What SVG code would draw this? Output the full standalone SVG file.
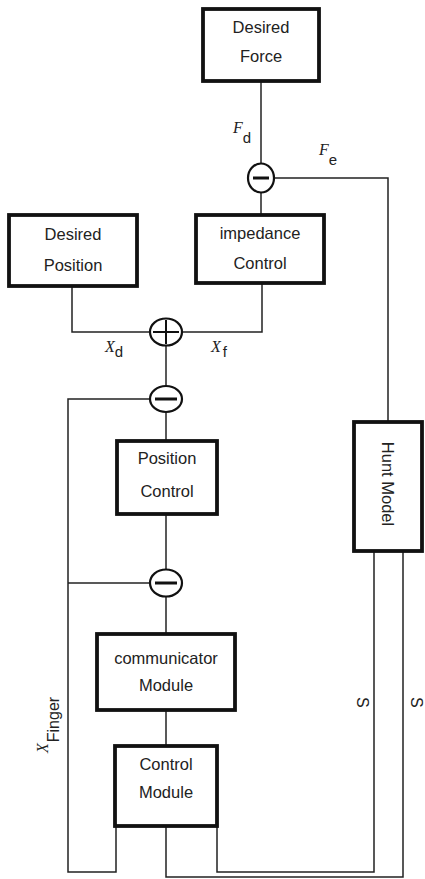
<svg xmlns="http://www.w3.org/2000/svg" width="425" height="879" viewBox="0 0 425 879">
<style>
.box{fill:#fff;stroke:#111;stroke-width:3.8}
.lbl{font-family:"Liberation Sans",Arial,sans-serif;font-size:16.5px;fill:#222;text-anchor:middle}
.ln{fill:none;stroke:#222;stroke-width:1.5}
.sum{fill:#fff;stroke:#111;stroke-width:2.2}
.sg{stroke:#111;stroke-width:3}
.sgp{stroke:#111;stroke-width:2}
.mi{font-family:"Liberation Serif","Times New Roman",serif;font-style:italic;font-size:16px;fill:#222}
.ms{font-family:"Liberation Sans",Arial,sans-serif;font-size:15px;fill:#222}
</style>
<rect width="425" height="879" fill="#fff"/>
<g id="connectors">
<path class="ln" d="M261 81V163"/>
<path class="ln" d="M261 192V215"/>
<path class="ln" d="M274 178H388V422"/>
<path class="ln" d="M72 286V332H150"/>
<path class="ln" d="M262 283V332H182"/>
<path class="ln" d="M166 345V386"/>
<path class="ln" d="M151 399H68V872H116V826"/>
<path class="ln" d="M166 412V441"/>
<path class="ln" d="M166 514V570"/>
<path class="ln" d="M150 583H68"/>
<path class="ln" d="M166 596V634"/>
<path class="ln" d="M166 710V746"/>
<path class="ln" d="M166 826V877H403V551"/>
<path class="ln" d="M217 826V872H374V551"/>
</g>
<g id="desired-force"><rect class="box" x="203" y="9" width="116" height="72"/><text class="lbl" x="261" y="33">Desired</text><text class="lbl" x="261" y="62">Force</text></g>
<g id="sum-force"><ellipse class="sum" cx="261" cy="178" rx="13" ry="14.5"/><line class="sg" x1="253" y1="178" x2="269" y2="178"/></g>
<g id="desired-position"><rect class="box" x="9" y="215" width="128" height="71"/><text class="lbl" x="73" y="240">Desired</text><text class="lbl" x="73" y="271">Position</text></g>
<g id="impedance-control"><rect class="box" x="196" y="215" width="128" height="68"/><text class="lbl" x="260" y="239">impedance</text><text class="lbl" x="260" y="269">Control</text></g>
<g id="sum-plus"><ellipse class="sum" cx="166" cy="332" rx="16" ry="13.5"/><line class="sgp" x1="153" y1="332" x2="179" y2="332"/><line class="sgp" x1="166" y1="320" x2="166" y2="344"/></g>
<g id="sum-pos"><ellipse class="sum" cx="166" cy="399" rx="16" ry="13"/><line class="sg" x1="155" y1="399" x2="177" y2="399"/></g>
<g id="position-control"><rect class="box" x="117" y="441" width="100" height="73"/><text class="lbl" x="167" y="464">Position</text><text class="lbl" x="167" y="497">Control</text></g>
<g id="sum-inner"><ellipse class="sum" cx="166" cy="583" rx="16" ry="13.5"/><line class="sg" x1="155" y1="583" x2="177" y2="583"/></g>
<g id="communicator-module"><rect class="box" x="97" y="634" width="138" height="76"/><text class="lbl" x="166" y="664">communicator</text><text class="lbl" x="166" y="691">Module</text></g>
<g id="control-module"><rect class="box" x="115" y="746" width="102" height="80"/><text class="lbl" x="166" y="770">Control</text><text class="lbl" x="166" y="798">Module</text></g>
<g id="hunt-model"><rect class="box" x="354" y="422" width="68" height="129"/><text class="lbl" transform="translate(382,484) rotate(90)">Hunt Model</text></g>
<g id="labels">
<text x="233" y="133"><tspan class="mi">F</tspan><tspan class="ms" dy="10">d</tspan></text>
<text x="319" y="155"><tspan class="mi">F</tspan><tspan class="ms" dy="10">e</tspan></text>
<text x="105" y="352"><tspan class="mi">X</tspan><tspan class="ms" dy="5">d</tspan></text>
<text x="211" y="352"><tspan class="mi">X</tspan><tspan class="ms" dx="2" dy="5">f</tspan></text>
<text transform="translate(48,753) rotate(-90)"><tspan class="mi">X</tspan><tspan class="ms" style="font-size:16px" dx="1" dy="11">Finger</tspan></text>
<text class="ms" style="font-size:16px" transform="translate(357,697) rotate(90)">S</text>
<text class="ms" style="font-size:16px" transform="translate(411,697) rotate(90)">S</text>
</g>
</svg>
